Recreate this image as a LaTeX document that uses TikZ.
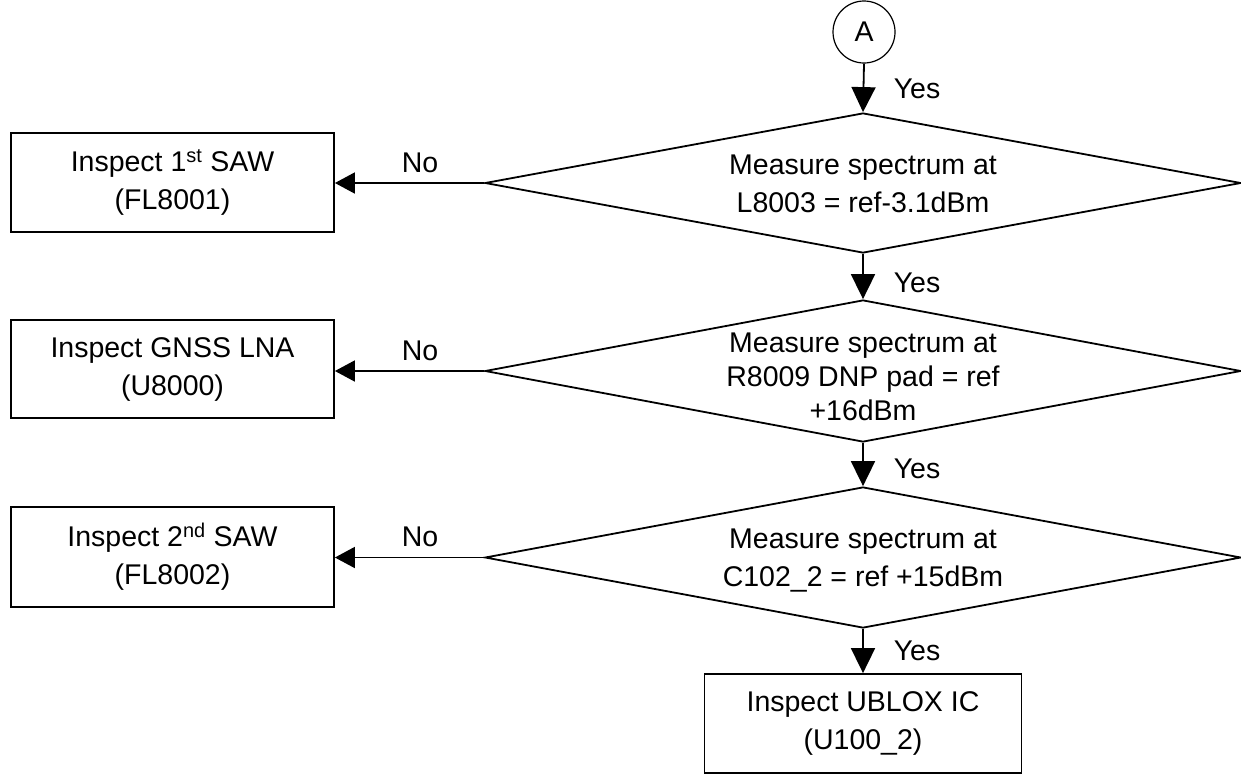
\documentclass[tikz,border=0pt]{standalone}
\usepackage{fontspec}
\setmainfont{Liberation Sans}
\usetikzlibrary{arrows.meta,shapes.geometric}
\tikzset{
  base/.style={font=\fontsize{28.5}{38}\selectfont},
  box/.style={draw,line width=1.8pt,rectangle,minimum width=323pt,inner sep=0pt},
  dia/.style={draw,line width=1.8pt,diamond,minimum width=756pt,inner sep=0pt},
  txt/.style={base,align=center,inner sep=0pt},
  lbl/.style={base,inner sep=0pt},
  varr/.style={line width=1.8pt,-{Triangle[length=25pt,width=24pt]}},
  harr/.style={line width=1.8pt,-{Triangle[length=20pt,width=21pt]}}
}
\begin{document}
\begin{tikzpicture}[x=1pt,y=-1pt]
\useasboundingbox (0,0) rectangle (1241,777);
% connector circle
\node[draw,circle,line width=1.2pt,minimum size=62pt,inner sep=0pt,base] (A) at (864,32) {A};
% decisions
\node[dia,minimum height=140pt] (d1) at (863,183) {};
\node[txt] (d1t) at (863,183.5) {Measure spectrum at\\L8003 = ref-3.1dBm};
\node[dia,minimum height=142pt] (d2) at (863,371) {};
\node[txt,font=\fontsize{28.5}{34}\selectfont] (d2t) at (863,377) {Measure spectrum at\\R8009 DNP pad = ref\\+16dBm};
\node[dia,minimum height=141pt] (d3) at (863,557.5) {};
\node[txt] (d3t) at (863,561) {Measure spectrum at\\C102\_2 = ref +15dBm};
% boxes
\node[box,minimum height=99pt,txt,draw] (b1) at (172.5,182.5) {Inspect 1\textsuperscript{st} SAW\\(FL8001)};
\node[box,minimum height=98pt,txt,draw] (b2) at (172.5,369) {Inspect GNSS LNA\\(U8000)};
\node[box,minimum height=100pt,txt,draw] (b3) at (172.5,557) {Inspect 2\textsuperscript{nd} SAW\\(FL8002)};
\node[box,minimum width=317pt,minimum height=99pt,txt,draw] (b4) at (863,723.5) {Inspect UBLOX IC\\(U100\_2)};
% vertical connectors
\draw[varr] (A.south) -- (d1.north);
\draw[varr] (d1.south) -- (d2.north);
\draw[varr] (d2.south) -- (d3.north);
\draw[varr] (d3.south) -- (b4.north);
% horizontal connectors
\draw[harr] (d1.west) -- (d1.west -| b1.east);
\draw[harr] (d2.west) -- (d2.west -| b2.east);
\draw[harr] (d3.west) -- (d3.west -| b3.east);
% labels
\node[lbl] (y1) at (917,89) {Yes};
\node[lbl] (y2) at (917,283) {Yes};
\node[lbl] (y3) at (917,469) {Yes};
\node[lbl] (y4) at (917,651) {Yes};
\node[lbl] (n1) at (420,163) {No};
\node[lbl] (n2) at (420,351) {No};
\node[lbl] (n3) at (420,537) {No};
\end{tikzpicture}
\end{document}
